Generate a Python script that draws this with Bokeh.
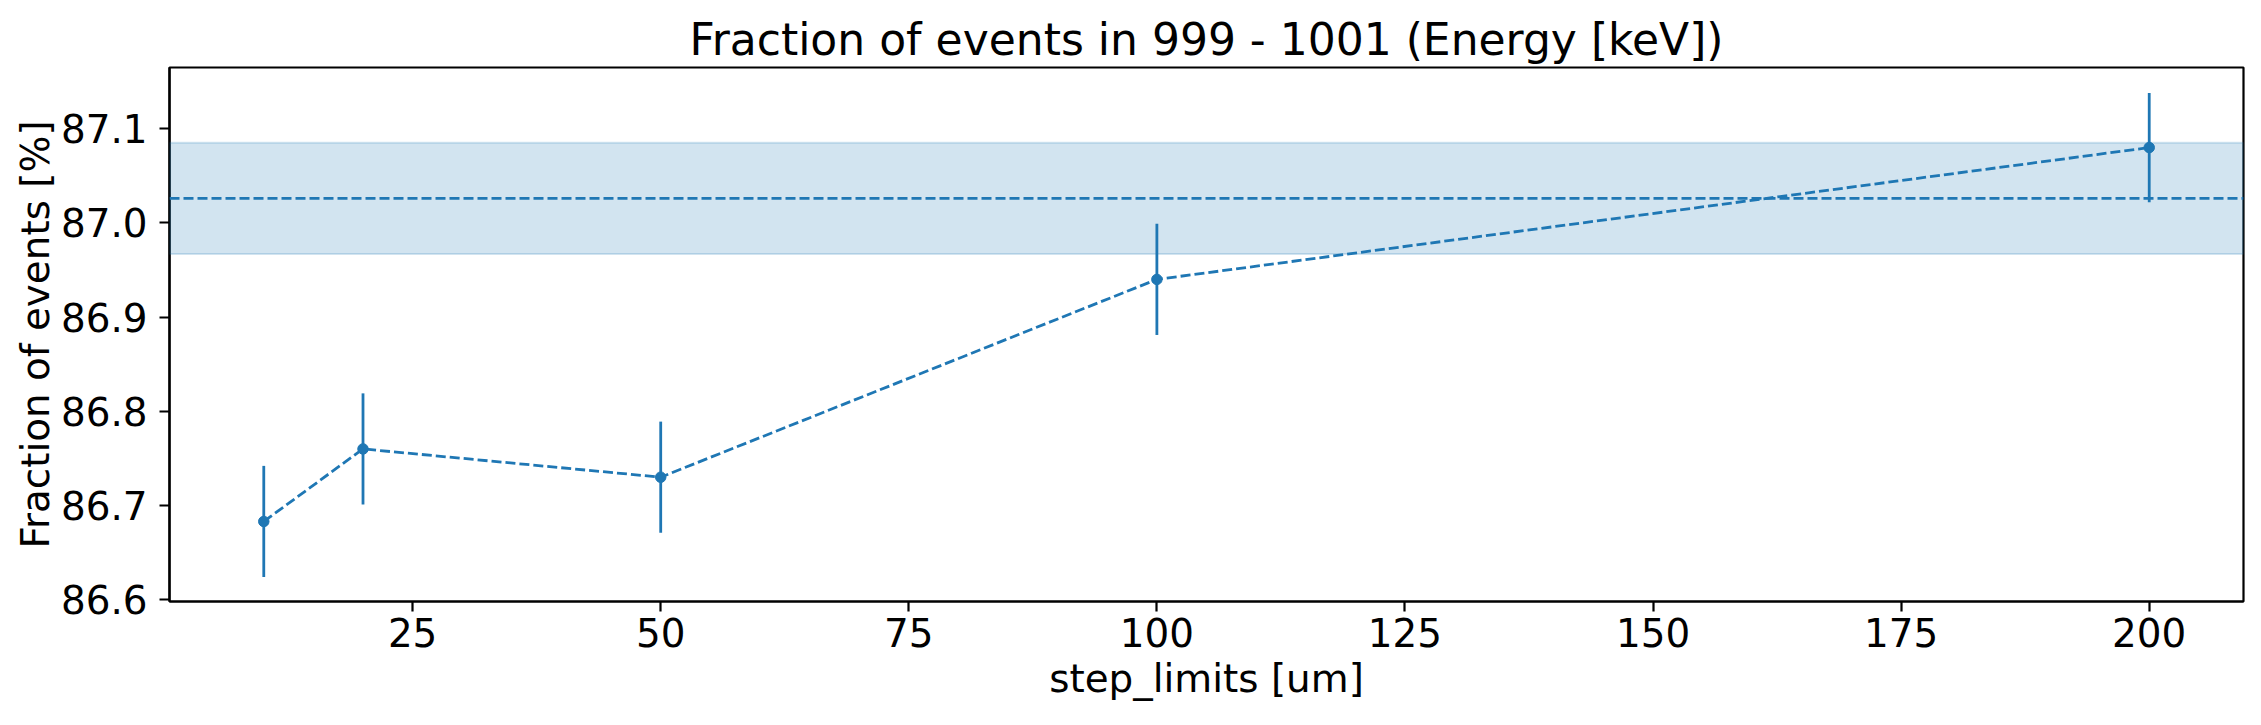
from bokeh.plotting import figure
from bokeh.models import Range1d, FixedTicker, BoxAnnotation, Span, ColumnDataSource, Title, PrintfTickFormatter
from bokeh.embed import file_html
from bokeh.resources import INLINE

# data
step_limits = [10, 20, 50, 100, 200]
fraction = [86.683, 86.760, 86.730, 86.940, 87.080]
fraction_err = [0.059, 0.059, 0.059, 0.059, 0.058]
mean_value = 87.026
mean_err = 0.059
x_ticks = [25, 50, 75, 100, 125, 150, 175, 200]
y_ticks = [86.6, 86.7, 86.8, 86.9, 87.0, 87.1]

BLUE = "#1f77b4"
FONT = "DejaVu Sans"

p = figure(width=2261, height=725, output_backend="svg", toolbar_location=None,
           x_range=Range1d(0.5, 209.5), y_range=Range1d(86.598, 87.165),
           min_border_left=169, min_border_right=18, min_border_top=67, min_border_bottom=124)
p.title = Title(text="Fraction of events in 999 - 1001 (Energy [keV])", align="center",
                text_font=FONT, text_font_size="44px", text_font_style="normal",
                text_color="black", standoff=6)

p.xgrid.visible = False
p.ygrid.visible = False
p.background_fill_color = "white"
p.border_fill_color = "white"
p.outline_line_color = "black"
p.outline_line_width = 2.2

for ax in (p.xaxis[0], p.yaxis[0]):
    ax.axis_line_width = 2.2
    ax.axis_line_color = "black"
    ax.major_tick_line_width = 2.2
    ax.major_tick_line_color = "black"
    ax.major_tick_out = 10
    ax.major_tick_in = 0
    ax.minor_tick_out = 0
    ax.minor_tick_in = 0
    ax.major_label_text_font = FONT
    ax.major_label_text_font_size = "38.9px"
    ax.major_label_text_color = "black"
    ax.axis_label_text_font = FONT
    ax.axis_label_text_font_size = "38.9px"
    ax.axis_label_text_font_style = "normal"
    ax.axis_label_text_color = "black"

p.xaxis.ticker = FixedTicker(ticks=x_ticks)
p.yaxis.ticker = FixedTicker(ticks=y_ticks)
p.yaxis.formatter = PrintfTickFormatter(format="%.1f")
p.xaxis.axis_label = "step_limits [um]"
p.yaxis.axis_label = "Fraction of events [%]"
p.xaxis.major_label_standoff = 6
p.yaxis.major_label_standoff = 12
p.xaxis.axis_label_standoff = 6
p.yaxis.axis_label_standoff = 0

# band and mean
band = BoxAnnotation(bottom=mean_value - mean_err, top=mean_value + mean_err,
                     fill_color=BLUE, fill_alpha=0.2, line_color=BLUE, line_alpha=0.2, line_width=2)
p.add_layout(band)
p.add_layout(Span(location=mean_value, dimension="width", line_color=BLUE,
                  line_width=2.8, line_dash="10 4"))

src = ColumnDataSource(dict(x=step_limits, y=fraction,
                            lo=[v - e for v, e in zip(fraction, fraction_err)],
                            hi=[v + e for v, e in zip(fraction, fraction_err)]))
p.line("x", "y", source=src, line_color=BLUE, line_width=2.8, line_dash="10 4")
p.segment(x0="x", y0="lo", x1="x", y1="hi", source=src, line_color=BLUE, line_width=2.8)
p.scatter("x", "y", source=src, size=10.5, fill_color=BLUE, line_color=BLUE)

open("out.html", "w").write(file_html(p, INLINE))
